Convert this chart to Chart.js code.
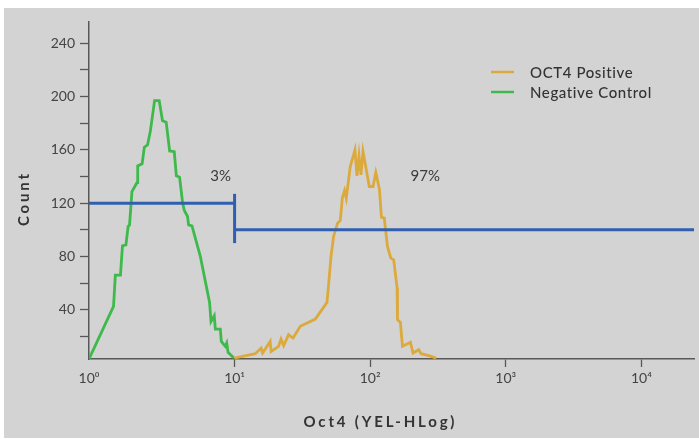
<!DOCTYPE html>
<html>
<head>
<meta charset="utf-8">
<script src="https://cdn.jsdelivr.net/npm/chart.js@4.4.1/dist/chart.umd.min.js"></script>
<style>
    html, body { margin: 0; padding: 0; background: #ffffff; }
    #marco { position: absolute; left: 4px; top: 8px; width: 695px; height: 430px; background: #d3d3d3; }
</style>
</head>
<body>
<div id="marco"><canvas id="graficoOct4" width="695" height="430"></canvas></div>
<script>
const oct4X = [9.95, 14.2, 15.7, 16.1, 18.3, 18.6, 21.1, 22.0, 23.0, 25.0, 27.0, 30.5, 39.4, 48.0, 49.3, 51.4, 53.7, 57.5, 60.2, 62.3, 64.7, 66.6, 71.3, 77.2, 79.9, 82.7, 85.5, 88.5, 98.5, 105, 110, 117, 121, 127, 134, 142, 149, 158, 159, 167, 173, 198, 207, 228, 237, 270, 307];
const oct4Y = [3.7, 7, 11.2, 7.5, 16.2, 8.7, 12.5, 18, 13, 21.2, 18.7, 27.5, 33, 45.5, 58, 80, 95, 105, 107, 123.8, 129.5, 123.8, 147.5, 160, 140.5, 155.5, 141.2, 158.7, 132.5, 132.5, 143, 130.5, 109.5, 108.8, 87.5, 78.7, 77.5, 56.2, 32.5, 30.5, 12.5, 15.5, 7.5, 10, 7, 5.5, 3.7];

const negX = [0.844, 1.28, 1.32, 1.44, 1.49, 1.58, 1.64, 1.68, 1.75, 1.91, 1.93, 2.08, 2.16, 2.28, 2.39, 2.57, 2.78, 2.94, 3.13, 3.32, 3.59, 3.72, 3.93, 4.14, 4.26, 4.50, 4.58, 4.85, 5.59, 6.54, 6.70, 7.08, 7.21, 7.85, 7.98, 8.54, 8.75, 8.95, 9.84];
const negY = [3, 42.5, 66, 66, 88, 88.7, 102.5, 103.7, 128.7, 135.5, 148, 149.5, 162, 163.7, 173.7, 197, 197, 181.8, 180.8, 159.2, 158.7, 140.5, 139.5, 120, 114.5, 110, 103.7, 103, 80, 45.5, 31.2, 35.5, 25.5, 25.5, 16.2, 12.5, 15, 8, 4];

const xMin = 0.844;
const xMax = 24430;
const xTickValues = [1, 10, 100, 1000, 10000];
const xTickLabels = ['10⁰', '10¹', '10²', '10³', '10⁴'];
const yTickValues = [20, 40, 60, 80, 100, 120, 140, 160, 180, 200, 220, 240];
const yTickLabels = ['', '40', '', '80', '', '120', '', '160', '', '200', '', '240'];

// Puerta de análisis (gate)
const gateSplit = 10;
const gateLeftLevel = 120;
const gateRightLevel = 100;
const gateBar = [90, 127];
const gatePercents = ['3%', '97%'];
const gatePercentX = [7.9, 255];
const gatePercentY = 140;

const seriesNames = ['OCT4 Positive', 'Negative Control'];
const colorOct4 = '#dcaa3c';
const colorNeg = '#3dba4b';
const colorGate = '#2f5fae';
const colorEje = '#585858';

const fuente = 'Lato, "Open Sans", sans-serif';

function puntos(xs, ys) {
    return xs.map((x, i) => ({ x: x, y: ys[i] }));
}

function lineaGate(datos) {
    return {
        data: datos,
        borderColor: colorGate,
        backgroundColor: colorGate,
        borderWidth: 3,
        pointRadius: 0,
        tension: 0
    };
}

// Dibuja títulos con espaciado entre letras, leyenda y porcentajes
const decoraciones = {
    id: 'decoraciones',
    afterDraw(chart) {
        const ctx = chart.ctx;
        const sx = chart.scales.x;
        const sy = chart.scales.y;
        ctx.save();

        // Porcentajes de la puerta
        ctx.font = '15px ' + fuente;
        ctx.fillStyle = '#3a3a3a';
        ctx.textAlign = 'center';
        ctx.textBaseline = 'middle';
        gatePercents.forEach((t, i) => {
            ctx.fillText(t, sx.getPixelForValue(gatePercentX[i]), sy.getPixelForValue(gatePercentY));
        });

        // Leyenda
        const colores = [colorOct4, colorNeg];
        ctx.font = '500 15px ' + fuente;
        ctx.letterSpacing = '0.6px';
        ctx.textAlign = 'left';
        seriesNames.forEach((nombre, i) => {
            const y = 64 + i * 20;
            ctx.strokeStyle = colores[i];
            ctx.lineWidth = 2.5;
            ctx.beginPath();
            ctx.moveTo(487, y);
            ctx.lineTo(510, y);
            ctx.stroke();
            ctx.fillStyle = '#333333';
            ctx.fillText(nombre, 526, y + 1);
        });

        // Títulos de los ejes
        ctx.fillStyle = '#333333';
        ctx.font = 'bold 15px ' + fuente;
        ctx.letterSpacing = '2.8px';
        ctx.textAlign = 'left';
        const tituloX = 'Oct4 (YEL-HLog)';
        const anchoX = ctx.measureText(tituloX).width - 2.8;
        ctx.fillText(tituloX, 375 - anchoX / 2, 414);

        const tituloY = 'Count';
        const anchoY = ctx.measureText(tituloY).width - 2.8;
        ctx.translate(20, 192);
        ctx.rotate(-Math.PI / 2);
        ctx.fillText(tituloY, -anchoY / 2, 0);
        ctx.restore();
    }
};

const ctx = document.getElementById('graficoOct4').getContext('2d');
const chart = new Chart(ctx, {
    type: 'line',
    data: {
        datasets: [
            lineaGate([{ x: xMin, y: gateLeftLevel }, { x: gateSplit, y: gateLeftLevel }]),
            lineaGate([{ x: gateSplit, y: gateBar[0] }, { x: gateSplit, y: gateBar[1] }]),
            lineaGate([{ x: gateSplit, y: gateRightLevel }, { x: xMax, y: gateRightLevel }]),
            {
                label: seriesNames[0],
                data: puntos(oct4X, oct4Y),
                borderColor: colorOct4,
                backgroundColor: colorOct4,
                borderWidth: 2.8,
                pointRadius: 0,
                tension: 0
            },
            {
                label: seriesNames[1],
                data: puntos(negX, negY),
                borderColor: colorNeg,
                backgroundColor: colorNeg,
                borderWidth: 2.8,
                pointRadius: 0,
                tension: 0
            }
        ]
    },
    options: {
        responsive: false,
        animation: false,
        layout: { padding: { top: 14, right: 5, left: 0, bottom: 0 } },
        plugins: {
            legend: { display: false },
            tooltip: { enabled: false }
        },
        scales: {
            x: {
                type: 'logarithmic',
                min: xMin,
                max: xMax,
                afterBuildTicks: (s) => {
                    s.ticks = xTickValues.map((v, i) => ({ value: i === 0 ? s.min : v }));
                },
                afterFit: (s) => { s.height = 79; },
                border: { color: colorEje, width: 1.5 },
                grid: {
                    drawOnChartArea: false,
                    tickLength: 8,
                    tickWidth: 1.3,
                    tickColor: (c) => c.index === 0 ? 'rgba(0,0,0,0)' : colorEje
                },
                ticks: {
                    autoSkip: false,
                    maxRotation: 0,
                    padding: 3,
                    color: '#444444',
                    font: { family: fuente, size: 14 },
                    callback: (v, i) => xTickLabels[i]
                }
            },
            y: {
                min: 3,
                max: 256,
                afterBuildTicks: (s) => {
                    s.ticks = yTickValues.map((v) => ({ value: v }));
                },
                afterFit: (s) => { s.width = 85; },
                border: { color: colorEje, width: 1.5 },
                grid: {
                    drawOnChartArea: false,
                    tickLength: 9,
                    tickWidth: 1.3,
                    tickColor: colorEje
                },
                ticks: {
                    autoSkip: false,
                    padding: 5,
                    color: '#444444',
                    font: { family: fuente, size: 14 },
                    callback: (v, i) => yTickLabels[i]
                }
            }
        }
    },
    plugins: [decoraciones]
});
</script>
</body>
</html>
